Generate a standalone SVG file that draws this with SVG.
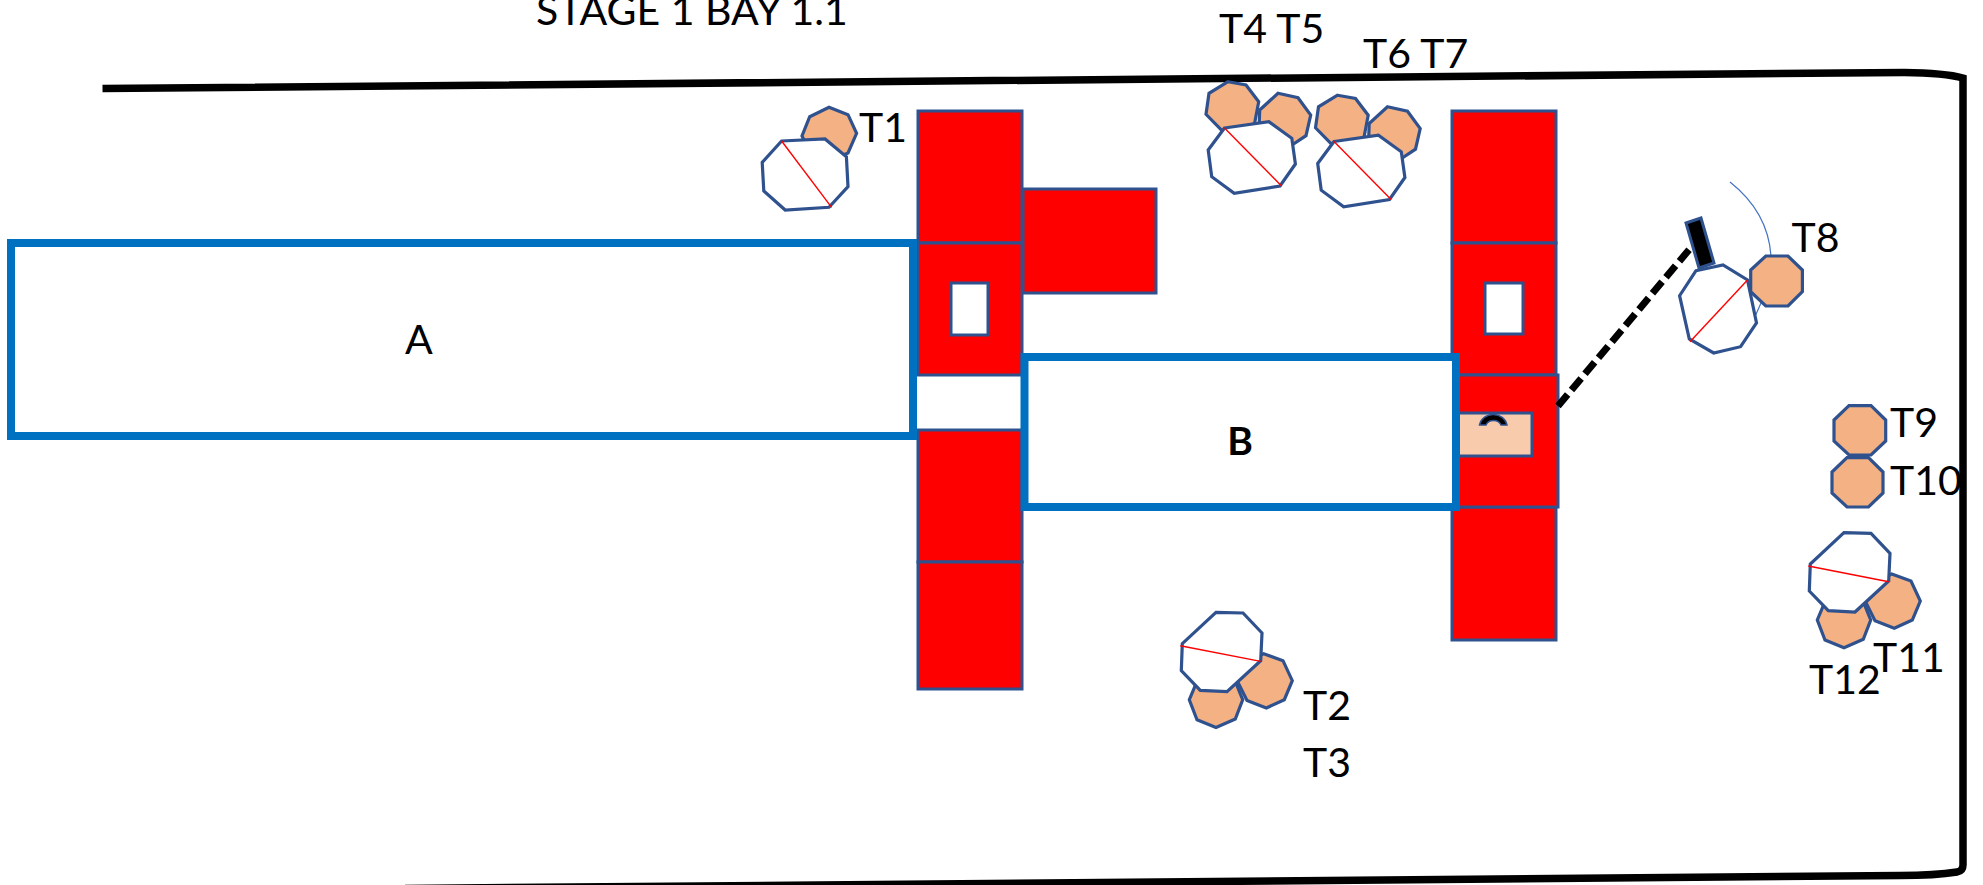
<svg xmlns="http://www.w3.org/2000/svg" width="1983" height="885" viewBox="0 0 1983 885">
<style>
text{font-family:"Lato","Noto Sans","Liberation Sans",sans-serif;font-size:41px;fill:#000}
.r{fill:#f00;stroke:#2f528f;stroke-width:3}
.h{fill:#fff;stroke:#2f528f;stroke-width:3}
.o{fill:#f4b183;stroke:#2f528f;stroke-width:3.200;stroke-linejoin:miter}
.w{fill:#fff;stroke:#2f528f;stroke-width:3.200}
.d{stroke:#f00;stroke-width:1.400;fill:none}
.b{fill:#fff;stroke:#0070c0;stroke-width:8}
.k{fill:none;stroke:#000;stroke-width:7.500}
.t{fill:none;stroke:#4472c4;stroke-width:1.200}
</style>
<rect width="1983" height="885" fill="#fff"/>
<g id="wall">
<path class="k" d="M102.500 88.500L1904 72.500Q1945 73 1963 78V865Q1963 871 1957 872Q1935 875.500 1900 875.500L405 888.500"/>
</g>
<text id="title" x="536" y="25">STAGE 1 BAY 1.1</text>
<g id="column-left">
<rect class="r" x="918" y="111" width="104" height="132"/>
<rect class="r" x="918" y="243" width="104" height="132"/>
<rect class="h" x="951" y="283" width="37" height="52"/>
<rect class="r" x="918" y="430" width="104" height="132"/>
<rect class="r" x="918" y="562" width="104" height="127"/>
</g>
<g id="block-side"><rect class="r" x="1023" y="189" width="133" height="104"/></g>
<g id="column-right">
<rect class="r" x="1452" y="111" width="104" height="132"/>
<rect class="r" x="1452" y="243" width="104" height="132"/>
<rect class="h" x="1485" y="283" width="38" height="51"/>
<rect class="r" x="1452" y="507" width="104" height="133"/>
<rect class="r" x="1452" y="375" width="106" height="132"/>
<rect x="1456" y="413" width="76" height="43" fill="#f8cbad" stroke="#2f528f" stroke-width="3"/>
<path d="M1479.500 425A14 13 0 0 1 1507 425H1501A8 7 0 0 0 1486 425Z" fill="#000" stroke="#2f528f" stroke-width="1.500"/>
</g>
<g id="A"><rect class="b" x="11" y="243" width="902" height="193"/><text x="419" y="354" text-anchor="middle">A</text></g>
<g id="B"><rect class="b" x="1024.500" y="357" width="431.500" height="150"/><text x="1240" y="455" text-anchor="middle" style="font-weight:700;font-size:39px">B</text></g>
<g id="connectors">
<path d="M1558 406L1693 245" stroke="#000" stroke-width="7" stroke-dasharray="15 6" fill="none"/>
</g>
<g id="T1">
<polygon class="o" points="829,107.300 848,114.700 856.600,133.300 848,153 829,161 810,153 802,136 809.700,116.700"/>
<polygon class="w" points="781.600,141 825,139 846.400,156.700 848,186.700 829,207.300 785.200,210 763.800,191 762.200,162.300"/>
<path class="d" d="M781.600 141L831.600 207.300"/>
<text x="859" y="141.700">T1</text>
</g>
<g id="T4-T5">
<polygon class="o" points="1228,81.700 1246,85 1258.700,101.700 1254.600,123.300 1240,131 1223,131.700 1206,114.300 1209,93.300"/>
<polygon class="o" points="1278,93.300 1298,97.700 1310.700,115 1306,135.700 1292,145 1275,146 1259,130 1259.700,110"/>
<polygon class="w" points="1224.500,128 1268.900,121.700 1291.800,138.300 1295.400,164 1280,186 1234.200,193.300 1211.700,176.700 1208.200,150"/>
<path class="d" d="M1224.500 128L1281.600 186"/>
<text x="1219" y="43">T4 T5</text>
</g>
<g id="T6-T7">
<g transform="translate(109.500 13.500)">
<polygon class="o" points="1228,81.700 1246,85 1258.700,101.700 1254.600,123.300 1240,131 1223,131.700 1206,114.300 1209,93.300"/>
<polygon class="o" points="1278,93.300 1298,97.700 1310.700,115 1306,135.700 1292,145 1275,146 1259,130 1259.700,110"/>
<polygon class="w" points="1224.500,128 1268.900,121.700 1291.800,138.300 1295.400,164 1280,186 1234.200,193.300 1211.700,176.700 1208.200,150"/>
<path class="d" d="M1224.500 128L1281.600 186"/>
</g>
<text x="1363" y="68">T6 T7</text>
</g>
<g id="T8">
<path class="t" d="M1730 182Q1768 212 1771 256M1761 303L1755.700 315"/>
<polygon points="1686,223 1701,218 1714,263 1699,268" fill="#000" stroke="#2f528f" stroke-width="3"/>
<polygon class="w" points="1696,270.700 1723,265 1747.500,280 1756.500,323 1740.600,346.700 1713.700,353 1689.300,339 1679.600,295.700"/>
<path class="d" d="M1747.500 280L1690 341.700"/>
<polygon class="o" points="1765.800,256 1788,256 1802.400,270 1802.400,291.700 1788,306 1765.800,306 1750.700,291.700 1750.700,270"/>
<text x="1791.600" y="252">T8</text>
</g>
<g id="T9">
<polygon class="o" points="1849,405.700 1871,405.700 1885.700,420 1885.700,441 1871,455 1849,455 1834,441 1834,420"/>
<text x="1890" y="437">T9</text>
</g>
<g id="T10">
<polygon class="o" points="1847,457.700 1868.500,457.700 1883,472 1883,493 1868.500,507 1847,507 1832,493 1832,472"/>
<text x="1890" y="495">T10</text>
</g>
<g id="T11-T12">
<polygon class="o" points="1844,593.300 1863.300,601.700 1870.700,620 1863.300,639.300 1844,647.700 1825,640 1817.300,620 1825,601.700"/>
<polygon class="o" points="1891.700,574 1911,581 1920.300,601 1912.300,620 1894.300,628.300 1875,620.700 1866,602.700 1873,582"/>
<polygon class="w" points="1844,532.700 1871,533.300 1890,553.300 1888.700,581 1855,612 1828.300,610.700 1809.300,591 1810.300,564"/>
<path class="d" d="M1808.300 566L1888.700 581.700"/>
<text x="1873" y="672">T11</text>
<text x="1809" y="694">T12</text>
</g>
<g id="T2-T3">
<g transform="translate(-628 79.700)">
<polygon class="o" points="1844,593.300 1863.300,601.700 1870.700,620 1863.300,639.300 1844,647.700 1825,640 1817.300,620 1825,601.700"/>
<polygon class="o" points="1891.700,574 1911,581 1920.300,601 1912.300,620 1894.300,628.300 1875,620.700 1866,602.700 1873,582"/>
<polygon class="w" points="1844,532.700 1871,533.300 1890,553.300 1888.700,581 1855,612 1828.300,610.700 1809.300,591 1810.300,564"/>
<path class="d" d="M1808.300 566L1888.700 581.700"/>
</g>
<text x="1303" y="720">T2</text>
<text x="1303" y="777">T3</text>
</g>
</svg>
